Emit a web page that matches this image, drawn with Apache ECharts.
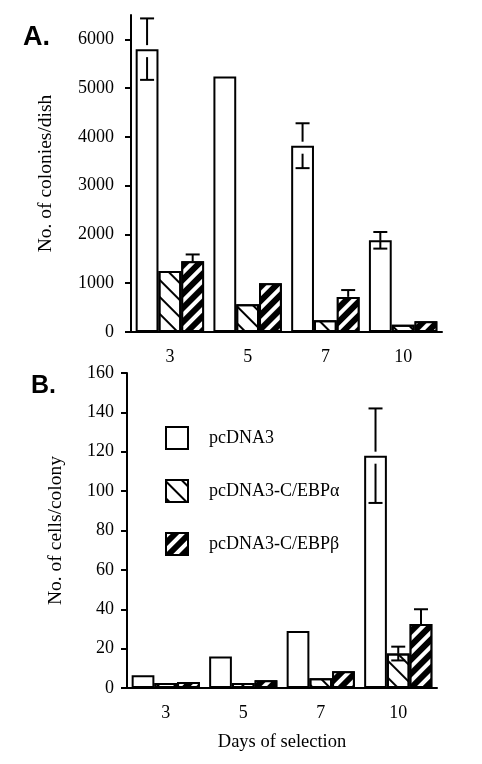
<!DOCTYPE html>
<html>
<head>
<meta charset="utf-8">
<script src="https://cdn.jsdelivr.net/npm/echarts@6/dist/echarts.min.js"></script>
<style>
  html, body { margin: 0; padding: 0; background: #fff; }
  #main { width: 482px; height: 764px; }
</style>
</head>
<body>
<div id="main"></div>
<script>
// days on the x axis (both panels)
var days = ['3', '5', '7', '10'];
var seriesNames = ['pcDNA3', 'pcDNA3-C/EBP\u03b1', 'pcDNA3-C/EBP\u03b2'];

// panel A: colonies per dish
var colPc = [5800, 5240, 3820, 1880];
var colAlpha = [1250, 570, 240, 150];
var colBeta = [1450, 1000, 720, 220];
var colPcErr = [630, 0, 460, 170];
var colAlphaErr = [0, 0, 0, 0];
var colBetaErr = [140, 0, 140, 0];
var colTicks = [0, 1000, 2000, 3000, 4000, 5000, 6000];

// panel B: cells per colony
var cellPc = [6.5, 16, 29, 118];
var cellAlpha = [2.5, 2.5, 5, 17.5];
var cellBeta = [3, 4, 8.5, 32.5];
var cellPcErr = [0, 0, 0, 24];
var cellAlphaErr = [0, 0, 0, 3.5];
var cellBetaErr = [0, 0, 0, 7.5];

var SERIF = 'Liberation Serif';
var catGap = 0.12;

// fill styles for the three vectors
var styles = [
  { color: '#fff', borderColor: '#000', borderWidth: 2 },
  {
    color: '#fff', borderColor: '#000', borderWidth: 2,
    decal: { symbol: 'rect', symbolSize: 1, dashArrayX: [1, 0], dashArrayY: [2, 10], rotation: Math.PI / 4, color: '#000' }
  },
  {
    color: '#000', borderColor: '#000', borderWidth: 2,
    decal: { symbol: 'rect', symbolSize: 1, dashArrayX: [1, 0], dashArrayY: [4, 6], rotation: -Math.PI / 4, color: '#fff' }
  }
];

// error bar drawn over bar k of each group
function errorBars(k) {
  return function (params, api) {
    var i = api.value(0), v = api.value(1), e = api.value(2);
    if (!e) return;
    var band = api.size([1, 0])[0];
    var bw = band * (1 - catGap) / 3;
    var top = api.coord([i, v]);
    var cx = top[0] + (k - 1) * bw;
    var hi = api.coord([i, v + e])[1];
    var lo = api.coord([i, v - e])[1];
    var ls = { stroke: '#000', lineWidth: 2 };
    var kids = [];
    var upEnd = top[1] - hi > 20 ? top[1] - 4 : top[1];
    var loStart = lo - top[1] > 20 ? top[1] + 8 : top[1];
    kids.push({ type: 'line', shape: { x1: cx, y1: hi, x2: cx, y2: upEnd }, style: ls });
    kids.push({ type: 'line', shape: { x1: cx - 7, y1: hi, x2: cx + 7, y2: hi }, style: ls });
    if (k !== 2 || lo - top[1] > 20) {
      kids.push({ type: 'line', shape: { x1: cx, y1: loStart, x2: cx, y2: lo }, style: ls });
      kids.push({ type: 'line', shape: { x1: cx - 7, y1: lo, x2: cx + 7, y2: lo }, style: ls });
    }
    return { type: 'group', children: kids };
  };
}

function barSeries(panel, values) {
  return values.map(function (vals, k) {
    return {
      name: seriesNames[k], type: 'bar', xAxisIndex: panel, yAxisIndex: panel,
      data: vals, barGap: '0%', barCategoryGap: (catGap * 100) + '%',
      itemStyle: styles[k], emphasis: { disabled: true }
    };
  });
}

function errSeries(panel, values, errs) {
  return values.map(function (vals, k) {
    return {
      name: 'err' + panel + k, type: 'custom', xAxisIndex: panel, yAxisIndex: panel,
      renderItem: errorBars(k), z: 5, silent: true,
      data: vals.map(function (v, i) { return [i, v, errs[k][i]]; })
    };
  });
}

var axisLine = { lineStyle: { color: '#000', width: 2 } };
var tickStyle = { color: '#000', width: 2 };
var plain = function (v) { return String(v); };

var chart = echarts.init(document.getElementById('main'));
chart.setOption({
  animation: false,
  backgroundColor: '#fff',
  title: [
    { text: 'A.', left: 18, top: 19, textStyle: { fontFamily: 'Liberation Sans', fontWeight: 'bold', fontSize: 27, color: '#000' } },
    { text: 'B.', left: 26, top: 369, textStyle: { fontFamily: 'Liberation Sans', fontWeight: 'bold', fontSize: 25, color: '#000' } }
  ],
  legend: {
    orient: 'vertical', left: 165, top: 426, padding: 0,
    itemWidth: 22, itemHeight: 22, itemGap: 29, icon: 'rect',
    itemStyle: { borderColor: '#000', borderWidth: 2 },
    textStyle: { fontFamily: SERIF, fontSize: 18, color: '#000', padding: [0, 0, 0, 16] },
    data: [
      { name: seriesNames[0] },
      { name: seriesNames[1], textStyle: { padding: [14, 0, 0, 16] } },
      { name: seriesNames[2], textStyle: { padding: [12, 0, 0, 16] } }
    ]
  },
  grid: [
    { left: 131, right: 40, top: 15, bottom: 432 },
    { left: 127, right: 45, top: 373, bottom: 76 }
  ],
  xAxis: [0, 1].map(function (g) {
    return {
      type: 'category', gridIndex: g, data: days,
      axisLine: axisLine,
      axisTick: { alignWithLabel: true, length: 9, lineStyle: tickStyle },
      axisLabel: { fontFamily: SERIF, fontSize: 18, color: '#000', margin: 16 },
      name: g === 1 ? 'Days of selection' : '',
      nameLocation: 'middle', nameGap: 45,
      nameTextStyle: { fontFamily: SERIF, fontSize: 18.5, color: '#000' }
    };
  }),
  yAxis: [
    {
      type: 'value', gridIndex: 0, min: 0, max: 6500, interval: 1000,
      axisLine: { show: true, lineStyle: { color: '#000', width: 2 } },
      axisTick: { show: true, length: 6, lineStyle: tickStyle, customValues: colTicks },
      axisLabel: { fontFamily: SERIF, fontSize: 18, color: '#000', margin: 17, customValues: colTicks, formatter: plain },
      splitLine: { show: false },
      name: 'No. of colonies/dish', nameLocation: 'middle', nameGap: 75,
      nameTextStyle: { fontFamily: SERIF, fontSize: 19.5, color: '#000' }
    },
    {
      type: 'value', gridIndex: 1, min: 0, max: 160, interval: 20,
      axisLine: { show: true, lineStyle: { color: '#000', width: 2 } },
      axisTick: { show: true, length: 6, lineStyle: tickStyle },
      axisLabel: { fontFamily: SERIF, fontSize: 18, color: '#000', margin: 13, formatter: plain },
      splitLine: { show: false },
      name: 'No. of cells/colony', nameLocation: 'middle', nameGap: 61,
      nameTextStyle: { fontFamily: SERIF, fontSize: 19.5, color: '#000' }
    }
  ],
  series: []
    .concat(barSeries(0, [colPc, colAlpha, colBeta]))
    .concat(barSeries(1, [cellPc, cellAlpha, cellBeta]))
    .concat(errSeries(0, [colPc, colAlpha, colBeta], [colPcErr, colAlphaErr, colBetaErr]))
    .concat(errSeries(1, [cellPc, cellAlpha, cellBeta], [cellPcErr, cellAlphaErr, cellBetaErr]))
});
</script>
</body>
</html>
